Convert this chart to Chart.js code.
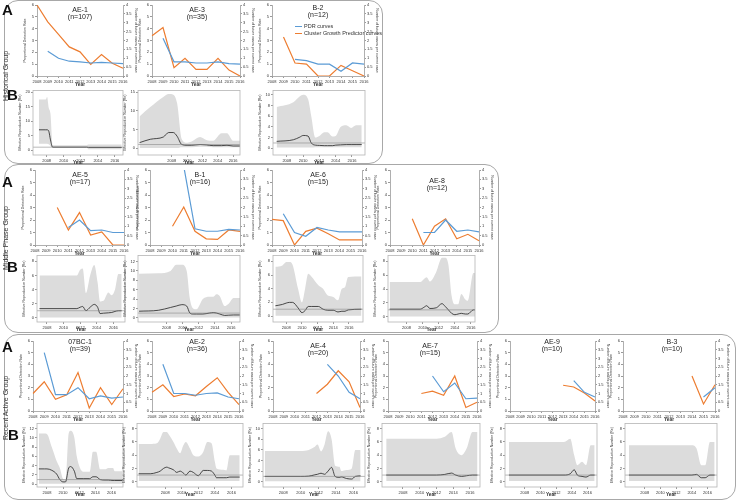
<!DOCTYPE html>
<html><head><meta charset="utf-8">
<script src="https://cdn.jsdelivr.net/npm/chart.js@4.4.1/dist/chart.umd.min.js"></script>
<style>
html,body{margin:0;padding:0;background:#fff;}
#wrap{position:relative;width:738px;height:501px;overflow:hidden;font-family:'Liberation Sans',Arial,sans-serif;color:#222;}
.grp{position:absolute;border:1px solid #a8a8a8;border-radius:14px;box-sizing:border-box;}
.big{position:absolute;font-weight:bold;font-size:15px;line-height:15px;color:#111;}
.gname{position:absolute;font-size:7px;line-height:7px;color:#333;white-space:nowrap;transform:translate(-50%,-50%) rotate(-90deg);}
.ttl{position:absolute;font-size:7px;line-height:7px;white-space:nowrap;transform:translateX(-50%);color:#222;}
.leg{position:absolute;font-size:5.5px;line-height:6px;white-space:nowrap;color:#333;}
.leg i{display:inline-block;width:7px;height:1.3px;vertical-align:middle;margin-right:2px;}
canvas{position:absolute;}
</style></head><body><div id="wrap"></div>
<script>
// ---------- categories ----------
const years = ['2008','2009','2010','2011','2012','2013','2014','2015','2016'];
const rtYearTicks = [2008, 2010, 2012, 2014, 2016];

// ---------- PDR (left axis) and Cluster Growth Predictor (right axis) ----------
const AE1_pdr = [null, 2.1, 1.5, 1.25, 1.2, 1.1, 1.15, 1.1, 1.05];
const AE1_cgp = [4.0, 3.05, 2.35, 1.64, 1.36, 0.65, 1.21, 0.72, 0.44];
const AE3_pdr = [null, 3.2, 1.2, 1.2, 1.1, 1.1, 1.2, 1.05, 1.0];
const AE3_cgp = [2.27, 2.73, 0.47, 1.0, 0.37, 0.37, 1.0, 0.33, 0];
const B2_pdr  = [null, null, 1.4, 1.3, 1.0, 1.0, 0.4, 1.1, 1.0];
const B2_cgp  = [null, 2.2, 0.73, 0.67, 0, 0, 0.6, 0.3, 0];
const AE5_pdr = [null, null, null, 1.4, 2.0, 1.15, 1.2, 1.0, 1.0];
const AE5_cgp = [null, null, 2.0, 0.8, 1.73, 0.53, 0.7, 0, 0];
const B1_pdr  = [null, null, null, 6.3, 1.3, 1.1, 1.1, 1.25, 1.2];
const B1_cgp  = [null, null, 1.0, 2.03, 0.73, 0.33, 0.3, 0.8, 0.73];
const AE6_pdr = [null, 2.5, 1.0, 0.7, 1.4, 1.2, 1.05, 1.05, 1.05];
const AE6_cgp = [1.37, 1.3, 0, 0.73, 0.9, 0.6, 0.27, 0.27, 0.27];
const AE8_pdr = [null, null, null, 1.0, 1.0, 2.0, 1.1, 1.2, 1.05];
const AE8_cgp = [null, null, 1.4, 0, 1.0, 1.4, 0.33, 0.57, 0.23];
const BC1_pdr = [null, 5.0, 1.4, 1.4, 2.0, 1.05, 1.3, 1.1, 1.2];
const BC1_cgp = [1.0, 1.67, 0.67, 0.93, 2.2, 0.17, 1.33, 0.37, 1.27];
const AE2_pdr = [null, 4.0, 1.5, 1.5, 1.35, 1.5, 1.55, 1.2, 1.05];
const AE2_cgp = [1.07, 1.5, 0.83, 0.97, 0.87, 1.4, 1.9, 1.07, 0.37];
const AE4_pdr = [null, null, null, null, null, 4.0, 3.0, 1.6, 1.05];
const AE4_cgp = [null, null, null, null, 1.0, 1.53, 2.3, 1.67, 0.2];
const AE7_pdr = [null, null, null, null, 3.0, 1.65, 2.4, 1.05, 1.1];
const AE7_cgp = [null, null, null, 1.0, 1.13, 0.9, 2.0, 0.2, 0.5];
const AE9_pdr = [null, null, null, null, null, null, 2.6, 1.6, 1.2];
const AE9_cgp = [null, null, null, null, null, 1.47, 1.37, 1.03, 0.57];
const B3_pdr  = [null, null, null, null, null, null, null, 1.2, 2.0];
const B3_cgp  = [null, null, null, null, null, null, 2.0, 0.4, 1.5];

// ---------- Effective reproduction number (time, upper HPD, median, lower HPD) ----------
const rAE1_t   = [2007.1, 2007.9, 2008.05, 2008.25, 2008.45, 2008.7, 2012.7, 2012.9, 2016.8];
const rAE1_hi  = [17.5, 17.5, 18.3, 14.5, 12.5, 1.7, 1.7, 1.9, 1.9];
const rAE1_med = [7, 7, 7, 6.5, 3.5, 1, 1, 0.9, 0.9];
const rAE1_lo  = [2.2, 2.2, 2.2, 2.0, 1.4, 0.9, 0.9, 0.3, 0.3];

const rAE3_t   = [2003.8, 2005.2, 2006.9, 2007.6, 2008.2, 2008.7, 2009.3, 2010.0, 2010.6, 2011.7, 2012.5, 2013.4, 2014.5, 2015.2, 2016.0, 2016.9];
const rAE3_hi  = [8.5, 11, 13.7, 14.5, 14.3, 12, 2.5, 1.5, 1.8, 3, 2.2, 2, 4, 4, 2, 2];
const rAE3_med = [1.5, 2.4, 3.0, 4.2, 4.2, 3.2, 1.0, 0.8, 0.8, 1.0, 0.9, 0.7, 0.7, 0.8, 0.6, 0.6];
const rAE3_lo  = [0.1, 0.1, 0.1, 0.1, 0.1, 0.1, 0.3, 0.3, 0.3, 0.4, 0.4, 0.3, 0.3, 0.3, 0.3, 0.3];

const rB2_t   = [2006.75, 2008.8, 2009.6, 2010.0, 2010.6, 2011.0, 2011.5, 2012.0, 2012.6, 2013.0, 2013.6, 2014.0, 2014.6, 2015.3, 2015.9, 2016.5, 2017.2];
const rB2_hi  = [7.7, 8.6, 9.7, 10, 9.2, 6, 2, 2.3, 3, 3, 2.2, 2.3, 4, 4.3, 3.8, 4.3, 4.3];
const rB2_med = [1.3, 1.6, 2.1, 2.4, 2.3, 1.0, 0.6, 0.55, 0.5, 0.5, 0.5, 0.6, 0.65, 0.7, 0.7, 0.7, 0.7];
const rB2_lo  = [0.15, 0.15, 0.15, 0.15, 0.15, 0.15, 0.2, 0.2, 0.2, 0.2, 0.2, 0.2, 0.2, 0.2, 0.2, 0.2, 0.2];

const rAE5_t   = [2007.1, 2011.6, 2012.0, 2012.3, 2012.7, 2013.2, 2013.7, 2014.1, 2014.4, 2014.8, 2015.4, 2015.8, 2016.2, 2016.6, 2017.0];
const rAE5_hi  = [6, 6, 6.8, 7, 3.5, 6, 7.5, 5, 2.3, 2.4, 3.6, 3.2, 4, 6.2, 6.2];
const rAE5_med = [1.3, 1.3, 1.5, 1.6, 1.0, 1.5, 1.9, 1.5, 0.6, 0.65, 0.7, 0.75, 0.9, 1.0, 1.0];
const rAE5_lo  = [0.05, 0.05, 0.05, 0.05, 0.05, 0.05, 0.05, 0.05, 0.05, 0.05, 0.05, 0.05, 0.05, 0.05, 0.05];

const rB1_t   = [2004.6, 2007.0, 2008.5, 2009.2, 2009.9, 2010.5, 2010.9, 2011.3, 2011.7, 2012.5, 2013.3, 2013.8, 2014.2, 2014.6, 2015.2, 2015.7, 2016.3, 2017.1];
const rB1_hi  = [9.4, 9.5, 10, 11.3, 11.3, 10, 4, 2, 1.8, 4, 4.5, 4.5, 5, 4.6, 2.5, 3, 4.2, 4.2];
const rB1_med = [1.4, 1.6, 2.2, 2.5, 2.8, 2.5, 1.0, 0.8, 0.8, 0.8, 1.0, 1.1, 1.0, 0.8, 0.5, 0.55, 0.6, 0.6];
const rB1_lo  = [0.05, 0.05, 0.05, 0.05, 0.05, 0.05, 0.05, 0.05, 0.05, 0.05, 0.05, 0.05, 0.05, 0.05, 0.05, 0.05, 0.05, 0.05];

const rAE6_t   = [2006.6, 2007.5, 2008.0, 2008.4, 2008.8, 2009.5, 2010.0, 2010.4, 2010.8, 2011.2, 2012.1, 2012.7, 2013.3, 2014.0, 2014.6, 2015.1, 2015.5, 2015.9, 2017.6];
const rAE6_hi  = [7.2, 7.4, 7.9, 7.9, 7.5, 4, 2, 4, 6.2, 5.8, 4.5, 4, 3, 2.8, 2.3, 4, 4.2, 5.7, 5.8];
const rAE6_med = [1.5, 1.7, 1.9, 2.0, 2.0, 1.2, 0.5, 0.8, 1.4, 1.4, 1.4, 1.0, 0.85, 0.85, 0.6, 0.7, 0.7, 0.9, 1.0];
const rAE6_lo  = [0.05, 0.05, 0.05, 0.05, 0.05, 0.05, 0.05, 0.05, 0.05, 0.05, 0.05, 0.05, 0.05, 0.05, 0.05, 0.05, 0.05, 0.05, 0.05];

const rAE8_t   = [2005.9, 2009.7, 2010.2, 2010.5, 2010.9, 2011.7, 2012.4, 2012.8, 2013.2, 2013.6, 2014.0, 2014.4, 2014.8, 2015.3, 2015.6, 2016.3, 2016.5];
const rAE8_hi  = [5, 5, 5.5, 5.7, 5.1, 6.5, 8.5, 8.5, 7.5, 3, 1.8, 1.8, 3.3, 2.5, 2.3, 6.3, 6.3];
const rAE8_med = [1.1, 1.1, 1.4, 1.6, 1.2, 1.3, 1.9, 1.5, 1.0, 0.5, 0.3, 0.4, 0.5, 0.4, 0.4, 1.0, 1.0];
const rAE8_lo  = [0.05, 0.05, 0.05, 0.05, 0.05, 0.05, 0.05, 0.05, 0.05, 0.05, 0.05, 0.05, 0.05, 0.05, 0.05, 0.05, 0.05];

const rBC1_t   = [2007.0, 2007.7, 2008.0, 2008.6, 2009.2, 2009.6, 2010.0, 2010.3, 2010.7, 2010.95, 2011.4, 2011.7, 2012.1, 2012.5, 2013.3, 2013.7, 2014.1, 2014.6, 2015.2, 2015.6, 2016.2, 2016.4, 2017.35];
const rBC1_hi  = [10.9, 10.9, 10.8, 8, 5, 3.5, 1.2, 1.0, 11, 11.5, 10, 6, 3.5, 2.7, 2.7, 7, 7, 3.2, 3.2, 3.5, 3.5, 2.8, 2.8];
const rBC1_med = [3.3, 3.3, 3.3, 3.0, 2.2, 1.0, 0.5, 0.5, 3.5, 3.8, 2.8, 1.2, 1.2, 1.2, 1.2, 1.6, 1.6, 1.0, 0.9, 0.9, 0.8, 0.8, 0.8];
const rBC1_lo  = [0.1, 0.1, 0.1, 0.1, 0.1, 0.1, 0.1, 0.1, 0.1, 0.1, 0.1, 0.1, 0.1, 0.1, 0.1, 0.1, 0.1, 0.1, 0.1, 0.1, 0.1, 0.1, 0.1];

const rAE2_t   = [2004.8, 2006.2, 2007.0, 2007.4, 2007.8, 2008.2, 2008.4, 2009.0, 2009.4, 2009.8, 2010.2, 2010.5, 2011.0, 2011.4, 2012.0, 2012.6, 2013.1, 2013.6, 2014.0, 2014.2, 2015.0, 2015.4, 2015.8, 2017.0];
const rAE2_hi  = [5.7, 5.7, 5.8, 6.5, 7.5, 7.5, 7.2, 6, 5, 4.3, 5.5, 6, 5, 4, 3.8, 4.5, 6, 5.8, 3, 2, 1.8, 1.7, 4, 4];
const rAE2_med = [1.2, 1.2, 1.4, 1.6, 2.0, 2.2, 2.1, 1.8, 1.4, 1.6, 1.3, 1.0, 1.6, 1.4, 0.9, 1.7, 1.7, 1.6, 1.0, 0.6, 0.6, 0.6, 0.7, 0.7];
const rAE2_lo  = [0.1, 0.1, 0.1, 0.1, 0.1, 0.1, 0.1, 0.1, 0.1, 0.1, 0.1, 0.1, 0.1, 0.1, 0.1, 0.1, 0.1, 0.1, 0.1, 0.1, 0.1, 0.1, 0.1, 0.1];

const rAE4_t   = [2005.9, 2010.0, 2010.9, 2011.6, 2011.9, 2012.3, 2012.7, 2013.1, 2013.5, 2013.9, 2014.4, 2014.6, 2015.2, 2015.8, 2016.2, 2016.8];
const rAE4_hi  = [5.8, 5.8, 6, 6.6, 7, 5.7, 7, 9.5, 8, 3, 2.8, 2, 2.2, 2.5, 6, 6];
const rAE4_med = [1.0, 1.0, 1.05, 1.3, 1.4, 1.6, 1.4, 2.0, 2.7, 1.0, 0.8, 0.9, 0.6, 0.5, 1.0, 1.1];
const rAE4_lo  = [0.1, 0.1, 0.1, 0.1, 0.1, 0.1, 0.1, 0.1, 0.1, 0.1, 0.1, 0.1, 0.1, 0.1, 0.1, 0.1];

const rAE7_t   = [2006.0, 2012.0, 2013.0, 2013.8, 2014.3, 2015.0, 2015.6, 2016.3, 2016.9];
const rAE7_hi  = [6.5, 6.5, 6.8, 7.5, 5, 4, 5, 7.5, 7.5];
const rAE7_med = [1.0, 1.0, 1.1, 1.3, 1.0, 0.8, 0.9, 1.0, 1.0];
const rAE7_lo  = [0.1, 0.1, 0.1, 0.1, 0.1, 0.1, 0.1, 0.1, 0.1];

const rAE9_t   = [2006.0, 2013.0, 2013.8, 2014.3, 2014.7, 2015.3, 2015.8, 2016.4, 2016.9];
const rAE9_hi  = [6, 6, 6.5, 4, 2.5, 3, 2.5, 5.5, 5.5];
const rAE9_med = [1.0, 1.0, 1.2, 1.8, 1.0, 0.8, 0.7, 1.0, 1.0];
const rAE9_lo  = [0.1, 0.1, 0.1, 0.1, 0.1, 0.1, 0.1, 0.1, 0.1];

const rB3_t   = [2006.0, 2014.0, 2014.6, 2015.2, 2015.7, 2016.3, 2016.9];
const rB3_hi  = [5.5, 5.5, 5, 2.5, 2.5, 6, 6];
const rB3_med = [1.0, 1.0, 1.1, 0.6, 0.6, 1.0, 1.0];
const rB3_lo  = [0.1, 0.1, 0.1, 0.1, 0.1, 0.1, 0.1];

// ---------- style ----------
const BLUE = '#5b9bd5', ORANGE = '#ed7d31', GREY = '#dcdcdc', AX = '#9a9a9a', TX = '#333';
Chart.defaults.font.family = "'Liberation Sans', Arial, sans-serif";
const wrap = document.getElementById('wrap');

function el(cls, txt, css) { const d = document.createElement('div'); d.className = cls; if (txt !== null) d.textContent = txt; Object.assign(d.style, css); wrap.appendChild(d); return d; }
function mk(left, top, w, h) { const c = document.createElement('canvas'); c.width = w; c.height = h; c.style.left = left + 'px'; c.style.top = top + 'px'; c.style.width = w + 'px'; c.style.height = h + 'px'; wrap.appendChild(c); return c; }

// group boxes
el('grp', null, {left:'4px', top:'0px', width:'379px', height:'164px'});
el('grp', null, {left:'4px', top:'164px', width:'495px', height:'169px'});
el('grp', null, {left:'4px', top:'334px', width:'732px', height:'166px'});

const LW = 14, RW = 15, PT = 4, XH = 12;
function pdrChart(x1, y1, x2, y2, pdr, cgp) {
  const c = mk(x1 - LW, y1 - PT, LW + (x2 - x1) + RW, PT + (y2 - y1) + XH);
  const tickFont = {size: 4};
  new Chart(c, {
    type: 'line',
    data: {labels: years, datasets: [
      {data: pdr, borderColor: BLUE, borderWidth: 1.2, pointRadius: 0, yAxisID: 'y', tension: 0},
      {data: cgp, borderColor: ORANGE, borderWidth: 1.2, pointRadius: 0, yAxisID: 'y1', tension: 0}
    ]},
    options: {
      responsive: false, animation: false, events: [],
      layout: {padding: {top: PT, left: 0, right: 0, bottom: 0}},
      plugins: {legend: {display: false}, tooltip: {enabled: false}},
      scales: {
        x: {offset: false, grid: {display: true, drawOnChartArea: false, tickLength: 2, color: AX},
            border: {color: AX, width: 0.8},
            ticks: {font: tickFont, color: TX, padding: 1, maxRotation: 0, autoSkip: false},
            title: {display: true, text: 'Year', font: {size: 4.8, weight: 'bold'}, color: TX, padding: 0},
            afterFit: s => { s.height = XH; }},
        y: {position: 'left', min: 0, max: 6,
            ticks: {stepSize: 1, font: tickFont, color: TX, padding: 1, callback: v => String(v)},
            grid: {display: true, drawOnChartArea: false, tickLength: 2, color: AX},
            border: {color: AX, width: 0.8},
            title: {display: true, text: 'Proportional Detection Rate', font: {size: 3.6}, color: TX, padding: 0},
            afterFit: s => { s.width = LW; }},
        y1: {position: 'right', min: 0, max: 4,
            ticks: {stepSize: 0.5, font: tickFont, color: TX, padding: 1, callback: v => String(v)},
            grid: {display: true, drawOnChartArea: false, tickLength: 2, color: AX},
            border: {color: AX, width: 0.8},
            title: {display: true, text: 'Number of future cases per current case', font: {size: 3.6}, color: TX, padding: 0},
            afterFit: s => { s.width = RW; }}
      }
    }
  });
}

const framePlugin = {
  id: 'frame',
  afterDatasetsDraw(chart) {
    const {ctx, chartArea: a} = chart;
    ctx.save();
    const y1 = chart.scales.y.getPixelForValue(1);
    ctx.strokeStyle = '#8a8a8a'; ctx.lineWidth = 0.6;
    ctx.beginPath(); ctx.moveTo(a.left, y1); ctx.lineTo(a.right, y1); ctx.stroke();
    ctx.strokeStyle = '#b5b5b5'; ctx.lineWidth = 0.8;
    ctx.strokeRect(a.left, a.top, a.width, a.height);
    ctx.restore();
  }
};

const RLW = 15, RPT = 3, RXH = 11;
function rtChart(x1, y1, x2, y2, t, hi, med, lo, xmin, xmax, ymin, ymax, yticks) {
  const c = mk(x1 - RLW, y1 - RPT, RLW + (x2 - x1) + 3, RPT + (y2 - y1) + RXH);
  const pts = arr => t.map((v, i) => ({x: v, y: arr[i]}));
  const tickFont = {size: 4};
  new Chart(c, {
    type: 'line',
    data: {datasets: [
      {data: pts(med), borderColor: '#222', borderWidth: 0.8, pointRadius: 0, fill: false, cubicInterpolationMode: 'monotone'},
      {data: pts(lo), borderColor: 'rgba(0,0,0,0)', borderWidth: 0, pointRadius: 0, fill: false, cubicInterpolationMode: 'monotone'},
      {data: pts(hi), borderColor: 'rgba(0,0,0,0)', borderWidth: 0, pointRadius: 0, fill: '-1', backgroundColor: GREY, cubicInterpolationMode: 'monotone'}
    ]},
    plugins: [framePlugin],
    options: {
      responsive: false, animation: false, events: [],
      layout: {padding: {top: RPT, left: 0, right: 3, bottom: 0}},
      plugins: {legend: {display: false}, tooltip: {enabled: false}},
      scales: {
        x: {type: 'linear', min: xmin, max: xmax,
            afterBuildTicks: a => { a.ticks = rtYearTicks.map(v => ({value: v})); },
            grid: {display: true, drawOnChartArea: false, tickLength: 2, color: AX}, border: {display: false},
            ticks: {font: tickFont, color: TX, padding: 1, maxRotation: 0, autoSkip: false, callback: v => String(v)},
            title: {display: true, text: 'Year', font: {size: 4.8, weight: 'bold'}, color: TX, padding: 0},
            afterFit: s => { s.height = RXH; }},
        y: {min: ymin, max: ymax,
            afterBuildTicks: a => { a.ticks = yticks.map(v => ({value: v})); },
            grid: {display: true, drawOnChartArea: false, tickLength: 2, color: AX}, border: {display: false},
            ticks: {font: tickFont, color: TX, padding: 1, callback: v => String(v)},
            title: {display: true, text: 'Effective Reproduction Number (Re)', font: {size: 3.5}, color: TX, padding: 0},
            afterFit: s => { s.width = RLW; }}
      }
    }
  });
}

// ---------- Historical group ----------
pdrChart(37, 5, 123, 76, AE1_pdr, AE1_cgp);
pdrChart(152, 5, 240, 76, AE3_pdr, AE3_cgp);
pdrChart(272, 5, 364, 76, B2_pdr, B2_cgp);
rtChart(33, 90, 123, 155, rAE1_t, rAE1_hi, rAE1_med, rAE1_lo, 2006.4, 2016.95, -1.7, 20.6, [0, 5, 10, 15, 20]);
rtChart(138, 90, 240, 155, rAE3_t, rAE3_hi, rAE3_med, rAE3_lo, 2003.6, 2016.9, -1.8, 15.45, [0, 5, 10, 15]);
rtChart(273, 90, 365, 155, rB2_t, rB2_hi, rB2_med, rB2_lo, 2006.3, 2017.6, -1.24, 10.8, [0, 2, 4, 6, 8, 10]);

// ---------- Middle phase group ----------
pdrChart(35, 170, 124, 245, AE5_pdr, AE5_cgp);
pdrChart(150, 170, 240, 245, B1_pdr, B1_cgp);
pdrChart(272, 170, 362, 245, AE6_pdr, AE6_cgp);
pdrChart(390, 170, 479, 245, AE8_pdr, AE8_cgp);
rtChart(37, 255, 125, 322, rAE5_t, rAE5_hi, rAE5_med, rAE5_lo, 2006.8, 2017.4, -0.6, 8.85, [0, 2, 4, 6, 8]);
rtChart(138, 255, 240, 322, rB1_t, rB1_hi, rB1_med, rB1_lo, 2004.47, 2017.1, -0.9, 13.3, [0, 2, 4, 6, 8, 10, 12]);
rtChart(273, 255, 363, 322, rAE6_t, rAE6_hi, rAE6_med, rAE6_lo, 2006.3, 2017.8, -0.87, 8.87, [0, 2, 4, 6, 8]);
rtChart(388, 255, 475, 322, rAE8_t, rAE8_hi, rAE8_med, rAE8_lo, 2005.7, 2016.5, -0.75, 8.85, [0, 2, 4, 6, 8]);

// ---------- Recent active group ----------
pdrChart(33, 341, 123, 411, BC1_pdr, BC1_cgp);
pdrChart(152, 341, 239, 411, AE2_pdr, AE2_cgp);
pdrChart(273, 341, 360, 411, AE4_pdr, AE4_cgp);
pdrChart(388, 341, 477, 411, AE7_pdr, AE7_cgp);
pdrChart(510, 341, 595, 411, AE9_pdr, AE9_cgp);
pdrChart(623, 341, 715, 411, B3_pdr, B3_cgp);
rtChart(37, 423, 123, 487, rBC1_t, rBC1_hi, rBC1_med, rBC1_lo, 2006.77, 2017.43, -0.6, 13.1, [0, 2, 4, 6, 8, 10, 12]);
rtChart(137, 423, 243, 487, rAE2_t, rAE2_hi, rAE2_med, rAE2_lo, 2004.6, 2017.4, -0.8, 8.8, [0, 2, 4, 6, 8]);
rtChart(263, 423, 365, 487, rAE4_t, rAE4_hi, rAE4_med, rAE4_lo, 2005.7, 2017.3, -1.0, 11, [0, 2, 4, 6, 8, 10]);
rtChart(382, 423, 480, 487, rAE7_t, rAE7_hi, rAE7_med, rAE7_lo, 2005.5, 2017.2, -0.8, 8.8, [0, 2, 4, 6, 8]);
rtChart(505, 423, 597, 487, rAE9_t, rAE9_hi, rAE9_med, rAE9_lo, 2005.5, 2017.2, -0.8, 8.8, [0, 2, 4, 6, 8]);
rtChart(625, 423, 717, 487, rB3_t, rB3_hi, rB3_med, rB3_lo, 2005.5, 2017.2, -0.8, 8.8, [0, 2, 4, 6, 8]);

// ---------- titles ----------
const titles = [
  ['AE-1', '(n=107)', 80, 6], ['AE-3', '(n=35)', 197, 6], ['B-2', '(n=12)', 318, 4],
  ['AE-5', '(n=17)', 80, 171], ['B-1', '(n=16)', 200, 171], ['AE-6', '(n=15)', 318, 171], ['AE-8', '(n=12)', 437, 176.5],
  ['07BC-1', '(n=39)', 80, 337.5], ['AE-2', '(n=36)', 197, 337.5], ['AE-4', '(n=20)', 318, 341.5],
  ['AE-7', '(n=15)', 430, 341.5], ['AE-9', '(n=10)', 552, 337.5], ['B-3', '(n=10)', 672, 337.5]
];
titles.forEach(([a, b, x, y]) => {
  el('ttl', a, {left: x + 'px', top: y + 'px'});
  el('ttl', b, {left: x + 'px', top: (y + 7) + 'px'});
});

// legend in B-2 panel
const l1 = el('leg', null, {left: '295px', top: '23px'}); l1.innerHTML = '<i style="background:' + BLUE + '"></i>PDR curves';
const l2 = el('leg', null, {left: '295px', top: '30px'}); l2.innerHTML = '<i style="background:' + ORANGE + '"></i>Cluster Growth Predictor curves';

// panel letters
[['A', 2, 2], ['B', 7, 87], ['A', 2, 174], ['B', 7, 259], ['A', 2, 339], ['B', 8, 427]].forEach(([t, x, y]) => el('big', t, {left: x + 'px', top: y + 'px'}));

// group names
el('gname', 'Historical Group', {left: '5px', top: '76px'});
el('gname', 'Middle Phase Group', {left: '5px', top: '238px'});
el('gname', 'Recent Active Group', {left: '5px', top: '408px'});
</script>
</body></html>
